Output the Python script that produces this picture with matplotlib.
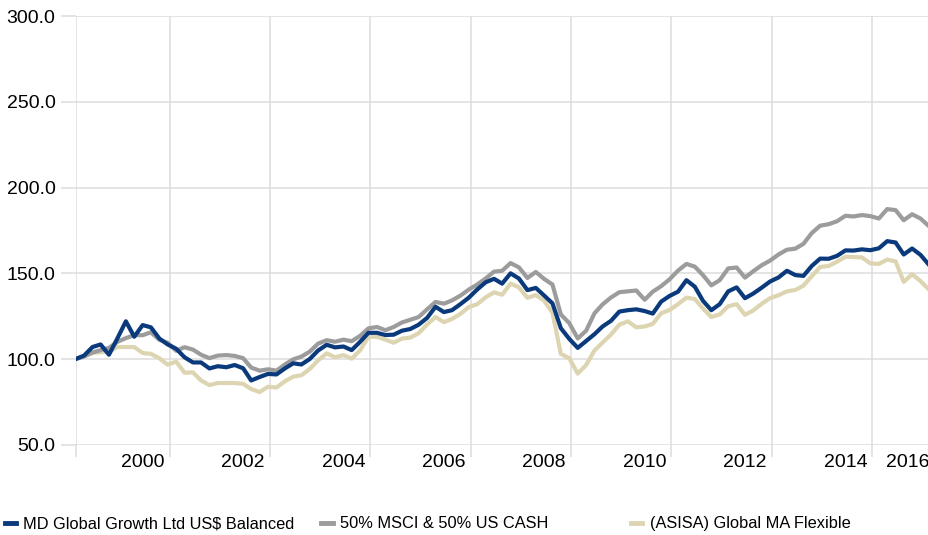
import datetime as dt
import pandas as pd
import matplotlib
matplotlib.use("Agg")
import matplotlib.pyplot as plt
from matplotlib.lines import Line2D

plt.rcParams['font.family'] = ['Liberation Sans', 'DejaVu Sans']

# two-monthly index values, rebased to 100, Sept 1998 - Sept 2015
dates = pd.date_range('1998-09-01', periods=103, freq='2MS')

md_global = [100, 102, 107, 108.5, 102.5, 112, 122, 113, 119.8, 118.5,
             112, 108.5, 106, 101, 98, 98, 94.5, 95.8, 95.2, 96.5,
             94.6, 87.5, 89.5, 91.3, 91, 94.5, 97.5, 96.8, 100, 105,
             108.3, 106.8, 107.3, 105.2, 110, 115.3, 115.3, 114, 114.2, 116.5,
             117.5, 120, 124, 130.5, 127.4, 128.5, 132, 135.8, 140.6, 144.8,
             146.8, 144, 150, 147, 140.2, 141.5, 137, 132.5, 118, 111.8,
             106.5, 110.5, 114.5, 119, 122.3, 127.7, 128.5, 129, 128, 126.5,
             133.5, 136.8, 139.3, 146, 142.2, 134, 128.5, 132, 139.5, 141.8,
             135.5, 138.2, 141.6, 145.2, 147.6, 151.5, 149, 148.5, 154.3, 158.6,
             158.5, 160.2, 163.4, 163.3, 164, 163.5, 164.6, 168.8, 168, 161,
             164.5, 160.8, 155]

msci_cash = [100, 101.5, 103.8, 105.2, 106.5, 110, 112.2, 113.9, 113.9, 115.6,
             111.2, 109.5, 104.8, 106.9, 105.5, 102.5, 100.5, 102, 102.3, 101.8,
             100.5, 95, 93.2, 94, 93.2, 96.8, 99.8, 101.4, 104.3, 109,
             111, 110.1, 111.3, 110.4, 113.5, 117.9, 118.7, 116.8, 118.7, 121.3,
             122.9, 124.5, 129, 133.3, 132.3, 134.2, 137, 140.5, 143.5, 147,
             151, 151.5, 156, 153.5, 147.3, 150.8, 146.7, 143.5, 126, 121,
             112, 116.5, 126.7, 131.9, 135.9, 139, 139.5, 140, 134.6, 139.3,
             142.5, 146.5, 151.6, 155.5, 153.9, 149, 143, 146, 152.9, 153.4,
             147.5, 151.2, 154.7, 157.4, 161, 163.8, 164.4, 167.2, 173.5, 177.8,
             178.7, 180.4, 183.6, 183.2, 184, 183.4, 182, 187.5, 186.9, 181,
             184.5, 182, 177.5]

asisa_flex = [100, 101.5, 103.5, 104, 104.2, 107, 107, 107, 103.5, 103,
              100.5, 96.7, 98.5, 92, 92.2, 87.5, 84.8, 86, 86, 86,
              85.5, 82.5, 80.7, 83.8, 83.4, 87, 89.7, 90.5, 94.2, 99.2,
              103.3, 101, 102.3, 100.2, 105, 113, 113, 111.3, 109.5, 111.9,
              112.5, 115, 120.2, 124.5, 121.5, 123.4, 126.3, 130.3, 132, 136,
              138.9, 137.5, 144, 141.8, 135.7, 137.3, 134, 127, 103, 100.5,
              91.5, 96.5, 105, 109.6, 114.3, 120, 122, 118.5, 119, 120.5,
              126.7, 128.6, 132, 135.8, 135, 129.5, 124.5, 126, 130.8, 132,
              125.8, 128.3, 132.2, 135.5, 137.2, 139.5, 140.3, 142.8, 148.3, 153.7,
              154.3, 156.8, 159.7, 159.5, 159.3, 155.8, 155.5, 158, 157, 145,
              149.5, 145.5, 140.5]

labels = ['MD Global Growth Ltd US$ Balanced', '50% MSCI & 50% US CASH',
          '(ASISA) Global MA Flexible']
colors = ['#0a3a7c', '#9c9c9c', '#ddd5b2']

# year labels and gridline positions
year_labels = ['2000', '2002', '2004', '2006', '2008', '2010', '2012', '2014', '2016']
label_pos = [dt.datetime(y, 1, 1) for y in range(2000, 2015, 2)] + [dt.datetime(2015, 4, 1)]
grid_pos = [dates[0]] + [dt.datetime(y, 7, 15) for y in range(2000, 2015, 2)]
y_ticks = [50, 100, 150, 200, 250, 300]

grid_col = '#dcdcdc'

fig = plt.figure(figsize=(9.29, 5.35), dpi=100)
ax = fig.add_axes([0.0815, 0.1688, 0.9185, 0.8007])

ax.plot(dates, asisa_flex, color=colors[2], lw=3.0, zorder=3)
ax.plot(dates, msci_cash, color=colors[1], lw=3.0, zorder=4)
ax.plot(dates, md_global, color=colors[0], lw=3.0, zorder=5)

ax.set_xlim(dates[0], dates[-1])
ax.set_ylim(50, 300)

for s in ax.spines.values():
    s.set_visible(False)

ax.set_xticks(grid_pos)
ax.set_xticklabels([])
ax.set_xticks(label_pos, minor=True)
ax.set_xticklabels(year_labels, minor=True)
ax.tick_params(axis='x', which='major', length=8.6, width=1.1, color=grid_col)
ax.tick_params(axis='x', which='minor', length=0, pad=7, labelsize=14)

ax.set_yticks(y_ticks)
ax.set_yticklabels(['%.1f' % v for v in y_ticks])
ax.tick_params(axis='y', length=10.6, width=1.1, color=grid_col, pad=4, labelsize=14)

ax.grid(True, which='major', color=grid_col, lw=1.1, zorder=0)
ax.set_axisbelow(True)

# legend entries spaced across the bottom
leg_x = [0.005, 0.346, 0.679]
for lab, col, x in zip(labels, colors, leg_x):
    h = Line2D([], [], color=col, lw=3.5)
    fig.legend([h], [lab], loc='center left', bbox_to_anchor=(x, 0.021),
               frameon=False, fontsize=11.8, handlelength=0.7,
               handletextpad=0.45, borderpad=0, borderaxespad=0)

fig.savefig('out.png', dpi=100)
